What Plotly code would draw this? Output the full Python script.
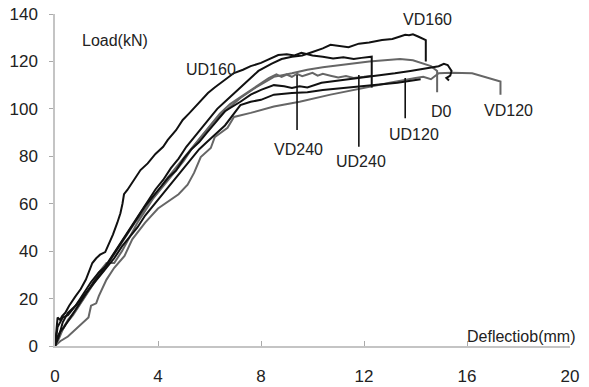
import plotly.graph_objects as go

# Load-deflection curves of the beam specimens (deflection in mm, load in kN)
ud160_x = [0, 0.05, 0.1, 0.2, 0.27, 0.4, 0.55, 0.78, 1.0, 1.2, 1.45, 1.6, 1.75, 1.95, 2.1, 2.25, 2.42, 2.54,
           2.62, 2.68, 2.81, 3.0, 3.32, 3.6, 3.9, 4.2, 4.38, 4.7, 4.96, 5.2, 5.5, 5.94, 6.2, 6.5, 6.95, 7.3,
           7.6, 8.0, 8.3, 8.67, 9.0, 9.3, 9.57, 10.0, 10.4, 10.8, 11.2, 11.6, 11.9, 12.2, 12.3, 12.3]
ud160_y = [0, 5, 12, 11, 12.5, 14, 17, 20.7, 24, 28, 35, 37, 38.5, 39.6, 43, 47, 52, 56,
           60, 64, 65.8, 69, 74.2, 77, 81, 84, 86.9, 91, 95.3, 98, 101.5, 106.7, 109, 111.5, 115.1, 116.5,
           118, 119.4, 121, 122.7, 123, 122.5, 123.6, 122.5, 122, 121.2, 121.8, 121, 121.5, 122, 122, 109]

vd160_x = [0, 0.1, 0.2, 0.35, 0.6, 0.9, 1.2, 1.5, 1.8, 2.1, 2.4, 2.7, 3.0, 3.3, 3.6, 3.9, 4.2, 4.5, 4.8,
           5.1, 5.4, 5.7, 6.0, 6.3, 6.6, 7.0, 7.4, 7.9, 8.4, 8.8, 9.2, 9.6, 10.0, 10.4, 10.7, 11.0, 11.4,
           11.8, 12.2, 12.7, 13.1, 13.4, 13.6, 13.75, 13.9, 14.1, 14.3, 14.4, 14.4]
vd160_y = [0, 4, 6, 8, 12, 17, 22, 27, 31, 36, 41, 46, 51, 56, 61, 66, 70, 75, 79,
           84, 88, 92, 96, 100, 103, 107, 111, 116, 119, 121, 122, 122.5, 124, 125.5, 127, 126.5, 126,
           127.5, 128, 129, 129.5, 130.5, 131.2, 131, 131.4, 130.5, 129.5, 129, 120]

d0_x = [0, 0.15, 0.3, 0.5, 0.8, 1.1, 1.4, 1.7, 2.0, 2.3, 2.6, 2.9, 3.2, 3.5, 3.8, 4.1, 4.4, 4.7, 5.0,
        5.3, 5.6, 5.9, 6.2, 6.6, 7.2, 7.8, 8.5, 9.2, 9.8, 10.4, 11.1, 11.7, 12.2, 12.8, 13.4, 13.9,
        14.3, 14.6, 14.84, 14.84]
d0_y = [0, 3, 7, 11, 15, 20, 25, 31, 35, 35, 40, 46, 52, 57, 62, 66, 70, 74, 78,
        83, 87, 91, 95, 99, 104.6, 109, 113.5, 115, 116.5, 117.5, 118.5, 119.5, 120, 120.5, 121, 120.5,
        119, 118, 116, 107]

vd240_x = [0, 0.2, 0.4, 0.7, 1.0, 1.3, 1.6, 1.9, 2.2, 2.5, 2.8, 3.1, 3.4, 3.7, 4.0, 4.3, 4.6, 4.9, 5.2,
           5.5, 5.8, 6.1, 6.4, 6.8, 7.2, 7.6, 8.0, 8.3, 8.6, 8.8, 9.0, 9.2, 9.4, 9.6, 9.8, 10.0, 10.2,
           10.4, 10.7, 11.0, 11.3, 11.6, 12.0, 12.3]
vd240_y = [0, 5, 9, 13, 18, 23, 28, 32, 37, 42, 47, 52, 56, 61, 65, 70, 74, 78, 82,
           86, 90, 94, 98, 102, 105, 108, 111, 113, 114.5, 113.5, 114.5, 113.5, 114.8, 113.8, 114.5, 115.2, 114,
           114.8, 114, 113.2, 113.8, 113, 113.5, 114]

ud240_x = [0, 0.1, 0.3, 0.5, 0.8, 1.1, 1.4, 1.7, 2.0, 2.3, 2.6, 2.9, 3.2, 3.5, 3.8, 4.1, 4.4, 4.7, 5.0,
           5.3, 5.6, 5.9, 6.2, 6.6, 7.2, 7.6, 8.0, 8.5, 8.9, 9.2, 9.5, 9.8, 10.35, 11.1, 11.8, 12.5, 13.2,
           13.8, 14.3, 14.6, 14.9, 15.1, 15.25, 15.4, 15.35, 15.2, 15.3]
ud240_y = [0, 8, 12, 13, 17, 22, 27, 31, 34, 39, 44, 49, 54, 59, 63, 67, 71, 74, 79,
           83, 86, 90, 94, 99, 103, 106, 108, 110, 109.5, 108.8, 109.5, 109, 111, 112, 113, 114, 115,
           116, 117, 117.5, 118, 119, 118.5, 116, 114, 113, 112]

ud120_x = [0, 0.15, 0.3, 0.5, 0.8, 1.1, 1.4, 1.7, 2.0, 2.3, 2.6, 2.9, 3.2, 3.5, 3.8, 4.1, 4.4, 4.7, 5.0,
           5.3, 5.6, 5.9, 6.2, 6.6, 7.2, 7.6, 8.0, 8.5, 9.2, 9.8, 10.4, 11.1, 11.7, 12.2, 12.8, 13.3,
           13.6, 13.9, 14.2]
ud120_y = [0, 4, 10, 14, 17, 21, 25, 29, 33, 37, 42, 46, 50, 55, 59, 63, 67, 71, 75,
           79, 83, 86, 89, 93, 101.6, 103, 103.8, 106, 106.7, 107, 108, 108.8, 109.5, 110, 110.5, 111,
           111.5, 112, 112.5]

vd120_x = [0, 0.2, 0.5, 0.9, 1.3, 1.4, 1.6, 1.7, 2.0, 2.3, 2.7, 3.0, 3.5, 4.0, 4.4, 4.8, 5.15, 5.4,
           5.66, 6.05, 6.2, 6.7, 6.95, 7.6, 8.5, 9.5, 10.7, 12.0, 13.0, 14.0, 14.3, 14.6, 14.9, 15.4,
           16.2, 17.3, 17.3]
vd120_y = [0, 2, 4, 8, 12, 17, 18, 21, 28, 33, 38, 45, 52, 58, 61, 64, 68, 73,
           79.7, 83.5, 88, 92, 96.6, 98.3, 101, 103, 106, 109, 111, 113, 113.5, 112.5, 115, 115.2,
           115, 111.5, 106]

# Leader lines for the specimen labels: deflection, upper load, lower load
leader_x = [9.4, 11.8, 13.6]
leader_top = [114.3, 114.3, 113]
leader_bottom = [91.1, 84, 96]

# Specimen labels: text, deflection, load
label_text = ["UD160", "VD160", "VD240", "UD240", "UD120", "D0", "VD120"]
label_x = [6.05, 14.45, 9.45, 11.9, 13.95, 15.0, 17.6]
label_y = [116.4, 137.5, 82.7, 77.6, 89, 98.7, 99.5]

x_ticks = [0, 4, 8, 12, 16, 20]
y_ticks = [0, 20, 40, 60, 80, 100, 120, 140]

BLACK = "#111111"
GRAY = "#666666"
FONT = "Liberation Sans"

series = [
    (vd120_x, vd120_y, GRAY),
    (d0_x, d0_y, GRAY),
    (vd240_x, vd240_y, GRAY),
    (ud120_x, ud120_y, BLACK),
    (ud240_x, ud240_y, BLACK),
    (vd160_x, vd160_y, BLACK),
    (ud160_x, ud160_y, BLACK),
]

fig = go.Figure()
for xs, ys, col in series:
    fig.add_trace(go.Scatter(x=xs, y=ys, mode="lines",
                             line=dict(color=col, width=2), showlegend=False,
                             hoverinfo="skip", cliponaxis=False))

for lx, lt, lb in zip(leader_x, leader_top, leader_bottom):
    fig.add_trace(go.Scatter(x=[lx, lx], y=[lt, lb], mode="lines",
                             line=dict(color=BLACK, width=1.6), showlegend=False,
                             hoverinfo="skip"))

annotations = [
    dict(x=t_x, y=t_y, text=t, showarrow=False, xref="x", yref="y",
         font=dict(family=FONT, size=16, color="#222222"))
    for t, t_x, t_y in zip(label_text, label_x, label_y)
]
annotations.append(dict(x=0.98, y=129, text="Load(kN)", showarrow=False, xref="x", yref="y",
                        xanchor="left", font=dict(family=FONT, size=16, color="#222222")))
annotations.append(dict(x=18.1, y=3.9, text="Deflectiob(mm)", showarrow=False, xref="x", yref="y",
                        font=dict(family=FONT, size=16, color="#222222")))

fig.update_layout(
    width=589, height=387,
    margin=dict(l=55, r=19, t=14, b=41),
    paper_bgcolor="white", plot_bgcolor="white",
    annotations=annotations,
    xaxis=dict(range=[0, 20], tickvals=x_ticks, ticktext=[str(v) for v in x_ticks],
               automargin=False,
               showgrid=False, zeroline=False, showline=True, linecolor="#c4c4c4", linewidth=1.5,
               ticks="inside", ticklen=5, tickcolor="#aaaaaa", tickwidth=1,
               ticklabelstandoff=14,
               tickfont=dict(family=FONT, size=17, color="#222222")),
    yaxis=dict(range=[0, 140], tickvals=y_ticks, ticktext=[str(v) for v in y_ticks],
               automargin=False,
               showgrid=False, zeroline=False, showline=True, linecolor="#c4c4c4", linewidth=1.5,
               ticks="outside", ticklen=4, tickcolor="#aaaaaa", tickwidth=1,
               ticklabelstandoff=8,
               tickfont=dict(family=FONT, size=17, color="#222222")),
)

fig.write_html("out.html")
